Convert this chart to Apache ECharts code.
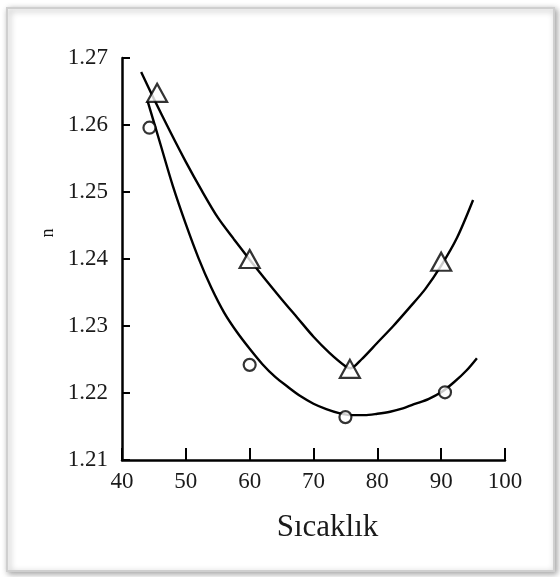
<!DOCTYPE html>
<html><head><meta charset="utf-8">
<script src="https://cdn.jsdelivr.net/npm/echarts@6/dist/echarts.min.js"></script>
<style>html,body{margin:0;padding:0;background:#fff}#c{width:560px;height:577px}</style>
</head><body><div id="c"></div>
<script>
// x-axis ticks (Sıcaklık) and y-axis ticks (n)
const xMin = 40, xMax = 100, xStep = 10;
const yMin = 1.21, yMax = 1.27, yStep = 0.01;

// Measured points: triangles
const triangleX = [45.5, 60, 75.7, 90];
const triangleY = [1.2648, 1.2400, 1.2236, 1.2396];
// Measured points: circles
const circleX = [44.3, 60, 75, 90.6];
const circleY = [1.2596, 1.2242, 1.2164, 1.2201];

// Fitted curve through triangles
const upperCurveX = [43, 45, 47.5, 50, 52.5, 55, 57.5, 60, 62.5, 65, 67.5, 70, 72.5, 75, 75.8, 77.5, 80, 82.5, 85, 87.5, 90, 92.5, 95];
const upperCurveY = [1.2679, 1.2639, 1.2591, 1.2545, 1.2502, 1.2462, 1.2430, 1.2399, 1.2369, 1.2340, 1.2312, 1.2284, 1.2260, 1.2240, 1.2237, 1.2250, 1.2275, 1.2300, 1.2327, 1.2355, 1.2390, 1.2432, 1.2488];
// Fitted curve through circles
const lowerCurveX = [44, 46, 48, 50, 52, 54, 56, 58, 60, 62, 64, 66, 68, 70, 72, 74, 76, 78, 80, 82, 84, 86, 88, 90, 92, 94, 95.6];
const lowerCurveY = [1.2636, 1.2572, 1.2508, 1.2452, 1.2401, 1.2357, 1.2320, 1.2291, 1.2266, 1.2243, 1.2224, 1.2209, 1.2195, 1.2184, 1.2176, 1.2170, 1.2167, 1.2167, 1.2169, 1.2172, 1.2177, 1.2184, 1.2191, 1.2201, 1.2216, 1.2234, 1.2252];

const xLabel = 'Sıcaklık';
const yLabel = 'n';

const zip = (a, b) => a.map((v, i) => [v, b[i]]);
const font = '"Liberation Serif", "DejaVu Serif", serif';

const chart = echarts.init(document.getElementById('c'), null, {renderer: 'canvas'});
chart.setOption({
  animation: false,
  backgroundColor: '#ffffff',
  graphic: [
    {type: 'rect', z: -100, silent: true,
     shape: {x: 7, y: 8, width: 547, height: 563},
     style: {fill: '#ffffff', stroke: '#cfcfcf', lineWidth: 2,
             shadowBlur: 6, shadowColor: 'rgba(0,0,0,0.35)', shadowOffsetX: 2, shadowOffsetY: 2}},
    {type: 'text', x: 48, y: 233, rotation: Math.PI / 2,
     style: {text: yLabel, font: '18px ' + font, fill: '#111', textAlign: 'center', textVerticalAlign: 'middle'}}
  ],
  grid: {left: 122, top: 58, width: 383, height: 402, containLabel: false},
  xAxis: {
    type: 'value', min: xMin, max: xMax, interval: xStep,
    name: xLabel, nameLocation: 'middle', nameGap: 52,
    nameTextStyle: {fontFamily: font, fontSize: 31, color: '#1a1a1a', padding: [0, 0, 0, 28]},
    axisLine: {show: true, lineStyle: {color: '#000', width: 2.5}},
    axisTick: {show: true, inside: true, length: 12, lineStyle: {color: '#000', width: 2}},
    axisLabel: {fontFamily: font, fontSize: 23, color: '#1a1a1a', margin: 10},
    splitLine: {show: false}
  },
  yAxis: {
    type: 'value', min: yMin, max: yMax, interval: yStep,
    axisLine: {show: true, lineStyle: {color: '#000', width: 2.5}},
    axisTick: {show: true, inside: true, length: 8, lineStyle: {color: '#000', width: 2}},
    axisLabel: {fontFamily: font, fontSize: 23, color: '#1a1a1a', margin: 14,
                formatter: v => v.toFixed(2)},
    splitLine: {show: false}
  },
  series: [
    {type: 'line', data: zip(upperCurveX, upperCurveY), smooth: 0.3, showSymbol: false,
     lineStyle: {color: '#000', width: 2.4}, z: 2},
    {type: 'line', data: zip(lowerCurveX, lowerCurveY), smooth: 0.3, showSymbol: false,
     lineStyle: {color: '#000', width: 2.4}, z: 2},
    {type: 'scatter', data: zip(triangleX, triangleY), symbol: 'triangle', symbolSize: [20, 18],
     itemStyle: {color: '#fff', borderColor: '#000', borderWidth: 2.2}, z: 5},
    {type: 'scatter', data: zip(circleX, circleY), symbol: 'circle', symbolSize: 12,
     itemStyle: {color: '#fff', borderColor: '#000', borderWidth: 2.2}, z: 5}
  ]
});
</script>
</body></html>
